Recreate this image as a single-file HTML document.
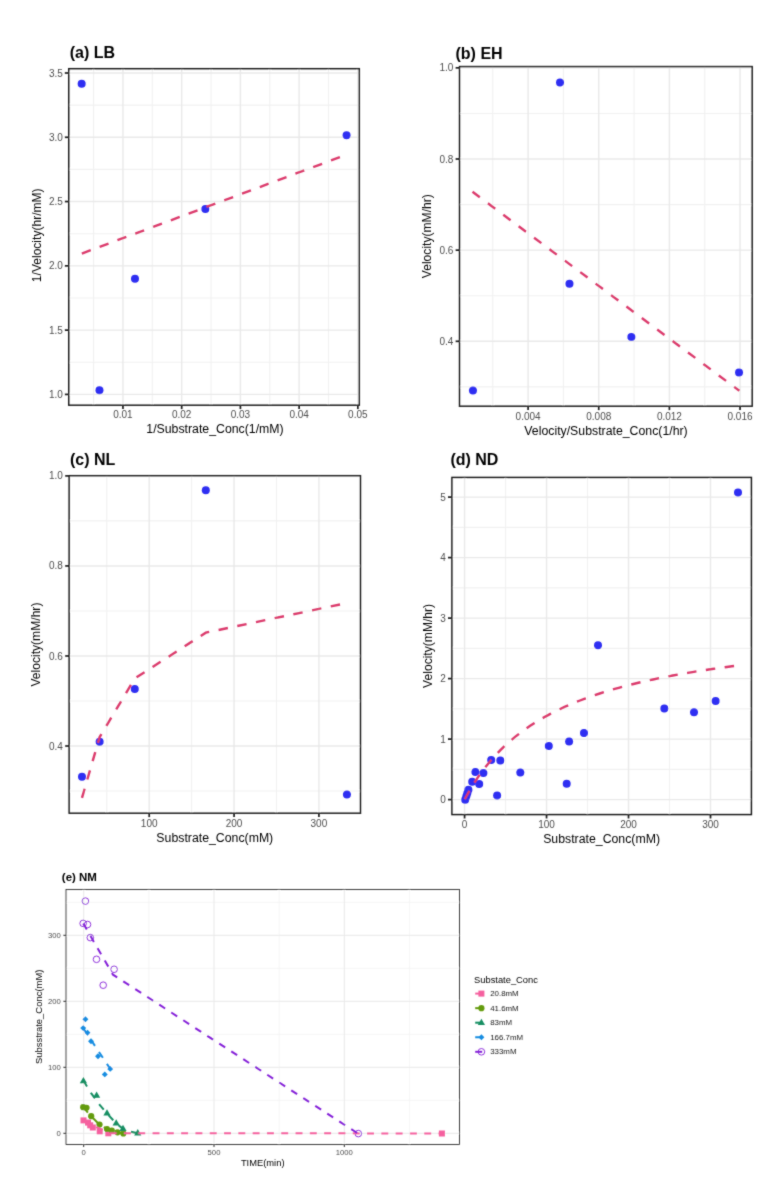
<!DOCTYPE html>
<html><head><meta charset="utf-8"><style>
html,body{margin:0;padding:0;background:#fff;}
svg{display:block;font-family:"Liberation Sans", sans-serif;}
#wrap{will-change:transform;width:768px;height:1187px;}

</style></head><body>
<div id="wrap"><svg width="768" height="1187" viewBox="0 0 768 1187">
<defs><filter id="soft" x="0" y="0" width="768" height="1187" filterUnits="userSpaceOnUse"><feConvolveMatrix order="3" kernelMatrix="0.025 0.085 0.025 0.085 0.56 0.085 0.025 0.085 0.025" edgeMode="none" preserveAlpha="false"/></filter></defs>
<rect width="768" height="1187" fill="#fff"/>
<g filter="url(#soft)">
<line x1="93.59" y1="68.70" x2="93.59" y2="405.20" stroke="#f1f1f1" stroke-width="1.1"/>
<line x1="152.31" y1="68.70" x2="152.31" y2="405.20" stroke="#f1f1f1" stroke-width="1.1"/>
<line x1="211.04" y1="68.70" x2="211.04" y2="405.20" stroke="#f1f1f1" stroke-width="1.1"/>
<line x1="269.76" y1="68.70" x2="269.76" y2="405.20" stroke="#f1f1f1" stroke-width="1.1"/>
<line x1="328.49" y1="68.70" x2="328.49" y2="405.20" stroke="#f1f1f1" stroke-width="1.1"/>
<line x1="68.75" y1="362.26" x2="359.30" y2="362.26" stroke="#f1f1f1" stroke-width="1.1"/>
<line x1="68.75" y1="297.98" x2="359.30" y2="297.98" stroke="#f1f1f1" stroke-width="1.1"/>
<line x1="68.75" y1="233.70" x2="359.30" y2="233.70" stroke="#f1f1f1" stroke-width="1.1"/>
<line x1="68.75" y1="169.42" x2="359.30" y2="169.42" stroke="#f1f1f1" stroke-width="1.1"/>
<line x1="68.75" y1="105.14" x2="359.30" y2="105.14" stroke="#f1f1f1" stroke-width="1.1"/>
<line x1="122.95" y1="68.70" x2="122.95" y2="405.20" stroke="#e9e9e9" stroke-width="1.4"/>
<line x1="181.68" y1="68.70" x2="181.68" y2="405.20" stroke="#e9e9e9" stroke-width="1.4"/>
<line x1="240.40" y1="68.70" x2="240.40" y2="405.20" stroke="#e9e9e9" stroke-width="1.4"/>
<line x1="299.12" y1="68.70" x2="299.12" y2="405.20" stroke="#e9e9e9" stroke-width="1.4"/>
<line x1="357.85" y1="68.70" x2="357.85" y2="405.20" stroke="#e9e9e9" stroke-width="1.4"/>
<line x1="68.75" y1="394.40" x2="359.30" y2="394.40" stroke="#e9e9e9" stroke-width="1.4"/>
<line x1="68.75" y1="330.12" x2="359.30" y2="330.12" stroke="#e9e9e9" stroke-width="1.4"/>
<line x1="68.75" y1="265.84" x2="359.30" y2="265.84" stroke="#e9e9e9" stroke-width="1.4"/>
<line x1="68.75" y1="201.56" x2="359.30" y2="201.56" stroke="#e9e9e9" stroke-width="1.4"/>
<line x1="68.75" y1="137.28" x2="359.30" y2="137.28" stroke="#e9e9e9" stroke-width="1.4"/>
<line x1="68.75" y1="73.00" x2="359.30" y2="73.00" stroke="#e9e9e9" stroke-width="1.4"/>
<circle cx="346.56" cy="135.26" r="4.0" fill="#2d2df2"/>
<circle cx="205.39" cy="209.09" r="4.0" fill="#2d2df2"/>
<circle cx="134.98" cy="278.74" r="4.0" fill="#2d2df2"/>
<circle cx="99.45" cy="390.15" r="4.0" fill="#2d2df2"/>
<circle cx="81.66" cy="83.74" r="4.0" fill="#2d2df2"/>
<path d="M81.83 253.55 L346.00 154.83" fill="none" stroke="#db3a6c" stroke-width="2.4" stroke-dasharray="9.5 9.5"/>
<rect x="68.75" y="68.70" width="290.55" height="336.50" fill="none" stroke="#1c1c1c" stroke-width="1.45"/>
<line x1="122.95" y1="405.20" x2="122.95" y2="409.10" stroke="#222222" stroke-width="1.74"/>
<text x="122.95" y="418.20" font-size="10" text-anchor="middle" fill="#4d4d4d" font-weight="normal">0.01</text>
<line x1="181.68" y1="405.20" x2="181.68" y2="409.10" stroke="#222222" stroke-width="1.74"/>
<text x="181.68" y="418.20" font-size="10" text-anchor="middle" fill="#4d4d4d" font-weight="normal">0.02</text>
<line x1="240.40" y1="405.20" x2="240.40" y2="409.10" stroke="#222222" stroke-width="1.74"/>
<text x="240.40" y="418.20" font-size="10" text-anchor="middle" fill="#4d4d4d" font-weight="normal">0.03</text>
<line x1="299.12" y1="405.20" x2="299.12" y2="409.10" stroke="#222222" stroke-width="1.74"/>
<text x="299.12" y="418.20" font-size="10" text-anchor="middle" fill="#4d4d4d" font-weight="normal">0.04</text>
<line x1="357.85" y1="405.20" x2="357.85" y2="409.10" stroke="#222222" stroke-width="1.74"/>
<text x="357.85" y="418.20" font-size="10" text-anchor="middle" fill="#4d4d4d" font-weight="normal">0.05</text>
<line x1="64.85" y1="394.40" x2="68.75" y2="394.40" stroke="#222222" stroke-width="1.74"/>
<text x="62.80" y="397.94" font-size="10" text-anchor="end" fill="#4d4d4d" font-weight="normal">1.0</text>
<line x1="64.85" y1="330.12" x2="68.75" y2="330.12" stroke="#222222" stroke-width="1.74"/>
<text x="62.80" y="333.66" font-size="10" text-anchor="end" fill="#4d4d4d" font-weight="normal">1.5</text>
<line x1="64.85" y1="265.84" x2="68.75" y2="265.84" stroke="#222222" stroke-width="1.74"/>
<text x="62.80" y="269.38" font-size="10" text-anchor="end" fill="#4d4d4d" font-weight="normal">2.0</text>
<line x1="64.85" y1="201.56" x2="68.75" y2="201.56" stroke="#222222" stroke-width="1.74"/>
<text x="62.80" y="205.10" font-size="10" text-anchor="end" fill="#4d4d4d" font-weight="normal">2.5</text>
<line x1="64.85" y1="137.28" x2="68.75" y2="137.28" stroke="#222222" stroke-width="1.74"/>
<text x="62.80" y="140.82" font-size="10" text-anchor="end" fill="#4d4d4d" font-weight="normal">3.0</text>
<line x1="64.85" y1="73.00" x2="68.75" y2="73.00" stroke="#222222" stroke-width="1.74"/>
<text x="62.80" y="76.54" font-size="10" text-anchor="end" fill="#4d4d4d" font-weight="normal">3.5</text>
<text x="69.70" y="57.80" font-size="16" text-anchor="start" fill="#000" font-weight="bold">(a) LB</text>
<text x="215.00" y="433.20" font-size="12.3" text-anchor="middle" fill="#000" font-weight="normal">1/Substrate_Conc(1/mM)</text>
<text x="40.55" y="235.30" font-size="12.05" text-anchor="middle" fill="#000" font-weight="normal" transform="rotate(-90 40.55 235.30)">1/Velocity(hr/mM)</text>
<line x1="492.78" y1="66.60" x2="492.78" y2="406.20" stroke="#f1f1f1" stroke-width="1.1"/>
<line x1="563.42" y1="66.60" x2="563.42" y2="406.20" stroke="#f1f1f1" stroke-width="1.1"/>
<line x1="634.07" y1="66.60" x2="634.07" y2="406.20" stroke="#f1f1f1" stroke-width="1.1"/>
<line x1="704.72" y1="66.60" x2="704.72" y2="406.20" stroke="#f1f1f1" stroke-width="1.1"/>
<line x1="459.50" y1="386.88" x2="752.20" y2="386.88" stroke="#f1f1f1" stroke-width="1.1"/>
<line x1="459.50" y1="295.72" x2="752.20" y2="295.72" stroke="#f1f1f1" stroke-width="1.1"/>
<line x1="459.50" y1="204.58" x2="752.20" y2="204.58" stroke="#f1f1f1" stroke-width="1.1"/>
<line x1="459.50" y1="113.43" x2="752.20" y2="113.43" stroke="#f1f1f1" stroke-width="1.1"/>
<line x1="528.10" y1="66.60" x2="528.10" y2="406.20" stroke="#e9e9e9" stroke-width="1.4"/>
<line x1="598.75" y1="66.60" x2="598.75" y2="406.20" stroke="#e9e9e9" stroke-width="1.4"/>
<line x1="669.40" y1="66.60" x2="669.40" y2="406.20" stroke="#e9e9e9" stroke-width="1.4"/>
<line x1="740.05" y1="66.60" x2="740.05" y2="406.20" stroke="#e9e9e9" stroke-width="1.4"/>
<line x1="459.50" y1="341.30" x2="752.20" y2="341.30" stroke="#e9e9e9" stroke-width="1.4"/>
<line x1="459.50" y1="250.15" x2="752.20" y2="250.15" stroke="#e9e9e9" stroke-width="1.4"/>
<line x1="459.50" y1="159.00" x2="752.20" y2="159.00" stroke="#e9e9e9" stroke-width="1.4"/>
<line x1="459.50" y1="67.85" x2="752.20" y2="67.85" stroke="#e9e9e9" stroke-width="1.4"/>
<circle cx="739.03" cy="372.47" r="4.0" fill="#2d2df2"/>
<circle cx="631.36" cy="336.92" r="4.0" fill="#2d2df2"/>
<circle cx="569.47" cy="283.69" r="4.0" fill="#2d2df2"/>
<circle cx="560.01" cy="82.43" r="4.0" fill="#2d2df2"/>
<circle cx="472.95" cy="390.38" r="4.0" fill="#2d2df2"/>
<path d="M472.50 191.80 L739.40 390.80" fill="none" stroke="#db3a6c" stroke-width="2.4" stroke-dasharray="9.1 10.1"/>
<rect x="459.50" y="66.60" width="292.70" height="339.60" fill="none" stroke="#1c1c1c" stroke-width="1.45"/>
<line x1="528.10" y1="406.20" x2="528.10" y2="410.10" stroke="#222222" stroke-width="1.74"/>
<text x="528.10" y="420.20" font-size="10" text-anchor="middle" fill="#4d4d4d" font-weight="normal">0.004</text>
<line x1="598.75" y1="406.20" x2="598.75" y2="410.10" stroke="#222222" stroke-width="1.74"/>
<text x="598.75" y="420.20" font-size="10" text-anchor="middle" fill="#4d4d4d" font-weight="normal">0.008</text>
<line x1="669.40" y1="406.20" x2="669.40" y2="410.10" stroke="#222222" stroke-width="1.74"/>
<text x="669.40" y="420.20" font-size="10" text-anchor="middle" fill="#4d4d4d" font-weight="normal">0.012</text>
<line x1="740.05" y1="406.20" x2="740.05" y2="410.10" stroke="#222222" stroke-width="1.74"/>
<text x="740.05" y="420.20" font-size="10" text-anchor="middle" fill="#4d4d4d" font-weight="normal">0.016</text>
<line x1="455.60" y1="341.30" x2="459.50" y2="341.30" stroke="#222222" stroke-width="1.74"/>
<text x="453.30" y="344.84" font-size="10" text-anchor="end" fill="#4d4d4d" font-weight="normal">0.4</text>
<line x1="455.60" y1="250.15" x2="459.50" y2="250.15" stroke="#222222" stroke-width="1.74"/>
<text x="453.30" y="253.69" font-size="10" text-anchor="end" fill="#4d4d4d" font-weight="normal">0.6</text>
<line x1="455.60" y1="159.00" x2="459.50" y2="159.00" stroke="#222222" stroke-width="1.74"/>
<text x="453.30" y="162.54" font-size="10" text-anchor="end" fill="#4d4d4d" font-weight="normal">0.8</text>
<line x1="455.60" y1="67.85" x2="459.50" y2="67.85" stroke="#222222" stroke-width="1.74"/>
<text x="453.30" y="71.39" font-size="10" text-anchor="end" fill="#4d4d4d" font-weight="normal">1.0</text>
<text x="455.50" y="58.90" font-size="16" text-anchor="start" fill="#000" font-weight="bold">(b) EH</text>
<text x="606.00" y="434.80" font-size="12.3" text-anchor="middle" fill="#000" font-weight="normal">Velocity/Substrate_Conc(1/hr)</text>
<text x="430.60" y="236.20" font-size="12.1" text-anchor="middle" fill="#000" font-weight="normal" transform="rotate(-90 430.60 236.20)">Velocity(mM/hr)</text>
<line x1="106.77" y1="475.70" x2="106.77" y2="813.20" stroke="#f1f1f1" stroke-width="1.1"/>
<line x1="191.63" y1="475.70" x2="191.63" y2="813.20" stroke="#f1f1f1" stroke-width="1.1"/>
<line x1="276.49" y1="475.70" x2="276.49" y2="813.20" stroke="#f1f1f1" stroke-width="1.1"/>
<line x1="69.10" y1="791.02" x2="360.50" y2="791.02" stroke="#f1f1f1" stroke-width="1.1"/>
<line x1="69.10" y1="700.98" x2="360.50" y2="700.98" stroke="#f1f1f1" stroke-width="1.1"/>
<line x1="69.10" y1="610.95" x2="360.50" y2="610.95" stroke="#f1f1f1" stroke-width="1.1"/>
<line x1="69.10" y1="520.92" x2="360.50" y2="520.92" stroke="#f1f1f1" stroke-width="1.1"/>
<line x1="149.20" y1="475.70" x2="149.20" y2="813.20" stroke="#e9e9e9" stroke-width="1.4"/>
<line x1="234.06" y1="475.70" x2="234.06" y2="813.20" stroke="#e9e9e9" stroke-width="1.4"/>
<line x1="318.92" y1="475.70" x2="318.92" y2="813.20" stroke="#e9e9e9" stroke-width="1.4"/>
<line x1="69.10" y1="746.00" x2="360.50" y2="746.00" stroke="#e9e9e9" stroke-width="1.4"/>
<line x1="69.10" y1="655.97" x2="360.50" y2="655.97" stroke="#e9e9e9" stroke-width="1.4"/>
<line x1="69.10" y1="565.93" x2="360.50" y2="565.93" stroke="#e9e9e9" stroke-width="1.4"/>
<line x1="69.10" y1="475.90" x2="360.50" y2="475.90" stroke="#e9e9e9" stroke-width="1.4"/>
<circle cx="81.99" cy="776.79" r="4.0" fill="#2d2df2"/>
<circle cx="99.64" cy="741.68" r="4.0" fill="#2d2df2"/>
<circle cx="134.77" cy="689.10" r="4.0" fill="#2d2df2"/>
<circle cx="205.80" cy="490.31" r="4.0" fill="#2d2df2"/>
<circle cx="346.92" cy="794.48" r="4.0" fill="#2d2df2"/>
<path d="M81.99 797.86 L99.64 737.07 L134.77 678.51 L205.80 632.65 L346.92 603.01" fill="none" stroke="#db3a6c" stroke-width="2.4" stroke-dasharray="9.5 9.6"/>
<rect x="69.10" y="475.70" width="291.40" height="337.50" fill="none" stroke="#1c1c1c" stroke-width="1.45"/>
<line x1="149.20" y1="813.20" x2="149.20" y2="817.10" stroke="#222222" stroke-width="1.74"/>
<text x="149.20" y="826.50" font-size="10" text-anchor="middle" fill="#4d4d4d" font-weight="normal">100</text>
<line x1="234.06" y1="813.20" x2="234.06" y2="817.10" stroke="#222222" stroke-width="1.74"/>
<text x="234.06" y="826.50" font-size="10" text-anchor="middle" fill="#4d4d4d" font-weight="normal">200</text>
<line x1="318.92" y1="813.20" x2="318.92" y2="817.10" stroke="#222222" stroke-width="1.74"/>
<text x="318.92" y="826.50" font-size="10" text-anchor="middle" fill="#4d4d4d" font-weight="normal">300</text>
<line x1="65.20" y1="746.00" x2="69.10" y2="746.00" stroke="#222222" stroke-width="1.74"/>
<text x="62.80" y="749.54" font-size="10" text-anchor="end" fill="#4d4d4d" font-weight="normal">0.4</text>
<line x1="65.20" y1="655.97" x2="69.10" y2="655.97" stroke="#222222" stroke-width="1.74"/>
<text x="62.80" y="659.51" font-size="10" text-anchor="end" fill="#4d4d4d" font-weight="normal">0.6</text>
<line x1="65.20" y1="565.93" x2="69.10" y2="565.93" stroke="#222222" stroke-width="1.74"/>
<text x="62.80" y="569.47" font-size="10" text-anchor="end" fill="#4d4d4d" font-weight="normal">0.8</text>
<line x1="65.20" y1="475.90" x2="69.10" y2="475.90" stroke="#222222" stroke-width="1.74"/>
<text x="62.80" y="479.44" font-size="10" text-anchor="end" fill="#4d4d4d" font-weight="normal">1.0</text>
<text x="69.95" y="464.80" font-size="16" text-anchor="start" fill="#000" font-weight="bold">(c) NL</text>
<text x="214.80" y="842.00" font-size="12.3" text-anchor="middle" fill="#000" font-weight="normal">Substrate_Conc(mM)</text>
<text x="40.30" y="644.60" font-size="12.1" text-anchor="middle" fill="#000" font-weight="normal" transform="rotate(-90 40.30 644.60)">Velocity(mM/hr)</text>
<line x1="505.57" y1="477.40" x2="505.57" y2="814.60" stroke="#f1f1f1" stroke-width="1.1"/>
<line x1="587.54" y1="477.40" x2="587.54" y2="814.60" stroke="#f1f1f1" stroke-width="1.1"/>
<line x1="669.51" y1="477.40" x2="669.51" y2="814.60" stroke="#f1f1f1" stroke-width="1.1"/>
<line x1="451.90" y1="769.35" x2="751.40" y2="769.35" stroke="#f1f1f1" stroke-width="1.1"/>
<line x1="451.90" y1="708.85" x2="751.40" y2="708.85" stroke="#f1f1f1" stroke-width="1.1"/>
<line x1="451.90" y1="648.35" x2="751.40" y2="648.35" stroke="#f1f1f1" stroke-width="1.1"/>
<line x1="451.90" y1="587.85" x2="751.40" y2="587.85" stroke="#f1f1f1" stroke-width="1.1"/>
<line x1="451.90" y1="527.35" x2="751.40" y2="527.35" stroke="#f1f1f1" stroke-width="1.1"/>
<line x1="464.59" y1="477.40" x2="464.59" y2="814.60" stroke="#e9e9e9" stroke-width="1.4"/>
<line x1="546.56" y1="477.40" x2="546.56" y2="814.60" stroke="#e9e9e9" stroke-width="1.4"/>
<line x1="628.53" y1="477.40" x2="628.53" y2="814.60" stroke="#e9e9e9" stroke-width="1.4"/>
<line x1="710.50" y1="477.40" x2="710.50" y2="814.60" stroke="#e9e9e9" stroke-width="1.4"/>
<line x1="451.90" y1="799.60" x2="751.40" y2="799.60" stroke="#e9e9e9" stroke-width="1.4"/>
<line x1="451.90" y1="739.10" x2="751.40" y2="739.10" stroke="#e9e9e9" stroke-width="1.4"/>
<line x1="451.90" y1="678.60" x2="751.40" y2="678.60" stroke="#e9e9e9" stroke-width="1.4"/>
<line x1="451.90" y1="618.10" x2="751.40" y2="618.10" stroke="#e9e9e9" stroke-width="1.4"/>
<line x1="451.90" y1="557.60" x2="751.40" y2="557.60" stroke="#e9e9e9" stroke-width="1.4"/>
<line x1="451.90" y1="497.10" x2="751.40" y2="497.10" stroke="#e9e9e9" stroke-width="1.4"/>
<circle cx="465.20" cy="799.80" r="4.0" fill="#2d2df2"/>
<circle cx="466.30" cy="796.50" r="4.0" fill="#2d2df2"/>
<circle cx="467.30" cy="793.30" r="4.0" fill="#2d2df2"/>
<circle cx="468.40" cy="789.80" r="4.0" fill="#2d2df2"/>
<circle cx="472.20" cy="781.80" r="4.0" fill="#2d2df2"/>
<circle cx="479.20" cy="783.90" r="4.0" fill="#2d2df2"/>
<circle cx="475.40" cy="772.10" r="4.0" fill="#2d2df2"/>
<circle cx="483.40" cy="773.10" r="4.0" fill="#2d2df2"/>
<circle cx="491.20" cy="759.90" r="4.0" fill="#2d2df2"/>
<circle cx="500.30" cy="760.40" r="4.0" fill="#2d2df2"/>
<circle cx="497.10" cy="795.60" r="4.0" fill="#2d2df2"/>
<circle cx="520.30" cy="772.40" r="4.0" fill="#2d2df2"/>
<circle cx="548.80" cy="745.90" r="4.0" fill="#2d2df2"/>
<circle cx="566.70" cy="783.70" r="4.0" fill="#2d2df2"/>
<circle cx="569.10" cy="741.60" r="4.0" fill="#2d2df2"/>
<circle cx="584.00" cy="732.90" r="4.0" fill="#2d2df2"/>
<circle cx="598.00" cy="645.30" r="4.0" fill="#2d2df2"/>
<circle cx="664.30" cy="708.40" r="4.0" fill="#2d2df2"/>
<circle cx="694.00" cy="712.20" r="4.0" fill="#2d2df2"/>
<circle cx="715.60" cy="701.10" r="4.0" fill="#2d2df2"/>
<circle cx="738.00" cy="492.40" r="4.0" fill="#2d2df2"/>
<path d="M464.84 799.13 L466.23 796.54 L467.87 793.57 L469.51 790.71 L471.15 787.94 L472.79 785.25 L474.43 782.65 L476.07 780.13 L477.71 777.69 L479.34 775.32 L480.98 773.02 L485.90 766.50 L490.82 760.52 L495.74 755.00 L500.66 749.89 L505.57 745.16 L510.49 740.75 L515.41 736.64 L520.33 732.80 L525.25 729.20 L530.17 725.83 L535.08 722.65 L540.00 719.66 L544.92 716.83 L549.84 714.16 L554.76 711.63 L559.68 709.23 L564.59 706.95 L569.51 704.79 L574.43 702.72 L579.35 700.76 L584.27 698.88 L589.18 697.09 L594.10 695.38 L599.02 693.74 L603.94 692.17 L608.86 690.67 L613.78 689.22 L618.69 687.83 L623.61 686.50 L628.53 685.21 L633.45 683.98 L638.37 682.79 L643.28 681.64 L648.20 680.53 L653.12 679.46 L658.04 678.43 L662.96 677.43 L667.88 676.47 L672.79 675.53 L677.71 674.63 L682.63 673.75 L687.55 672.91 L692.47 672.08 L697.38 671.29 L702.30 670.51 L707.22 669.76 L712.14 669.03 L717.06 668.32 L721.98 667.63 L726.89 666.96 L731.81 666.31 L736.73 665.67 L737.55 665.57" fill="none" stroke="#db3a6c" stroke-width="2.4" stroke-dasharray="9.5 9.5"/>
<rect x="451.90" y="477.40" width="299.50" height="337.20" fill="none" stroke="#1c1c1c" stroke-width="1.45"/>
<line x1="464.59" y1="814.60" x2="464.59" y2="818.50" stroke="#222222" stroke-width="1.74"/>
<text x="464.59" y="827.60" font-size="10" text-anchor="middle" fill="#4d4d4d" font-weight="normal">0</text>
<line x1="546.56" y1="814.60" x2="546.56" y2="818.50" stroke="#222222" stroke-width="1.74"/>
<text x="546.56" y="827.60" font-size="10" text-anchor="middle" fill="#4d4d4d" font-weight="normal">100</text>
<line x1="628.53" y1="814.60" x2="628.53" y2="818.50" stroke="#222222" stroke-width="1.74"/>
<text x="628.53" y="827.60" font-size="10" text-anchor="middle" fill="#4d4d4d" font-weight="normal">200</text>
<line x1="710.50" y1="814.60" x2="710.50" y2="818.50" stroke="#222222" stroke-width="1.74"/>
<text x="710.50" y="827.60" font-size="10" text-anchor="middle" fill="#4d4d4d" font-weight="normal">300</text>
<line x1="448.00" y1="799.60" x2="451.90" y2="799.60" stroke="#222222" stroke-width="1.74"/>
<text x="445.80" y="803.14" font-size="10" text-anchor="end" fill="#4d4d4d" font-weight="normal">0</text>
<line x1="448.00" y1="739.10" x2="451.90" y2="739.10" stroke="#222222" stroke-width="1.74"/>
<text x="445.80" y="742.64" font-size="10" text-anchor="end" fill="#4d4d4d" font-weight="normal">1</text>
<line x1="448.00" y1="678.60" x2="451.90" y2="678.60" stroke="#222222" stroke-width="1.74"/>
<text x="445.80" y="682.14" font-size="10" text-anchor="end" fill="#4d4d4d" font-weight="normal">2</text>
<line x1="448.00" y1="618.10" x2="451.90" y2="618.10" stroke="#222222" stroke-width="1.74"/>
<text x="445.80" y="621.64" font-size="10" text-anchor="end" fill="#4d4d4d" font-weight="normal">3</text>
<line x1="448.00" y1="557.60" x2="451.90" y2="557.60" stroke="#222222" stroke-width="1.74"/>
<text x="445.80" y="561.14" font-size="10" text-anchor="end" fill="#4d4d4d" font-weight="normal">4</text>
<line x1="448.00" y1="497.10" x2="451.90" y2="497.10" stroke="#222222" stroke-width="1.74"/>
<text x="445.80" y="500.64" font-size="10" text-anchor="end" fill="#4d4d4d" font-weight="normal">5</text>
<text x="450.45" y="464.90" font-size="16" text-anchor="start" fill="#000" font-weight="bold">(d) ND</text>
<text x="601.60" y="843.00" font-size="12.3" text-anchor="middle" fill="#000" font-weight="normal">Substrate_Conc(mM)</text>
<text x="432.30" y="645.90" font-size="12.1" text-anchor="middle" fill="#000" font-weight="normal" transform="rotate(-90 432.30 645.90)">Velocity(mM/hr)</text>
<line x1="148.85" y1="889.60" x2="148.85" y2="1144.40" stroke="#f1f1f1" stroke-width="0.75"/>
<line x1="279.15" y1="889.60" x2="279.15" y2="1144.40" stroke="#f1f1f1" stroke-width="0.75"/>
<line x1="409.45" y1="889.60" x2="409.45" y2="1144.40" stroke="#f1f1f1" stroke-width="0.75"/>
<line x1="66.00" y1="1100.30" x2="459.50" y2="1100.30" stroke="#f1f1f1" stroke-width="0.75"/>
<line x1="66.00" y1="1034.30" x2="459.50" y2="1034.30" stroke="#f1f1f1" stroke-width="0.75"/>
<line x1="66.00" y1="968.30" x2="459.50" y2="968.30" stroke="#f1f1f1" stroke-width="0.75"/>
<line x1="66.00" y1="902.30" x2="459.50" y2="902.30" stroke="#f1f1f1" stroke-width="0.75"/>
<line x1="83.70" y1="889.60" x2="83.70" y2="1144.40" stroke="#e9e9e9" stroke-width="1.0"/>
<line x1="214.00" y1="889.60" x2="214.00" y2="1144.40" stroke="#e9e9e9" stroke-width="1.0"/>
<line x1="344.30" y1="889.60" x2="344.30" y2="1144.40" stroke="#e9e9e9" stroke-width="1.0"/>
<line x1="66.00" y1="1133.30" x2="459.50" y2="1133.30" stroke="#e9e9e9" stroke-width="1.0"/>
<line x1="66.00" y1="1067.30" x2="459.50" y2="1067.30" stroke="#e9e9e9" stroke-width="1.0"/>
<line x1="66.00" y1="1001.30" x2="459.50" y2="1001.30" stroke="#e9e9e9" stroke-width="1.0"/>
<line x1="66.00" y1="935.30" x2="459.50" y2="935.30" stroke="#e9e9e9" stroke-width="1.0"/>
<rect x="80.50" y="1117.40" width="6.0" height="6.0" fill="#f5619f"/>
<rect x="85.00" y="1119.60" width="6.0" height="6.0" fill="#f5619f"/>
<rect x="87.20" y="1122.30" width="6.0" height="6.0" fill="#f5619f"/>
<rect x="89.80" y="1124.50" width="6.0" height="6.0" fill="#f5619f"/>
<rect x="96.70" y="1128.30" width="6.0" height="6.0" fill="#f5619f"/>
<rect x="105.30" y="1130.30" width="6.0" height="6.0" fill="#f5619f"/>
<rect x="438.90" y="1130.50" width="6.0" height="6.0" fill="#f5619f"/>
<circle cx="83.20" cy="1107.20" r="3.1" fill="#649b0a"/>
<circle cx="86.50" cy="1107.80" r="3.1" fill="#649b0a"/>
<circle cx="91.20" cy="1116.20" r="3.1" fill="#649b0a"/>
<circle cx="99.50" cy="1124.60" r="3.1" fill="#649b0a"/>
<circle cx="107.00" cy="1129.00" r="3.1" fill="#649b0a"/>
<circle cx="111.80" cy="1130.50" r="3.1" fill="#649b0a"/>
<circle cx="117.50" cy="1132.30" r="3.1" fill="#649b0a"/>
<circle cx="123.30" cy="1133.40" r="3.1" fill="#649b0a"/>
<path d="M83.40 1076.89 L87.00 1083.19 L79.80 1083.19Z" fill="#138e62"/>
<path d="M96.60 1091.39 L100.20 1097.69 L93.00 1097.69Z" fill="#138e62"/>
<path d="M107.00 1109.29 L110.60 1115.59 L103.40 1115.59Z" fill="#138e62"/>
<path d="M116.20 1119.29 L119.80 1125.59 L112.60 1125.59Z" fill="#138e62"/>
<path d="M123.00 1124.79 L126.60 1131.09 L119.40 1131.09Z" fill="#138e62"/>
<path d="M137.75 1129.09 L141.35 1135.39 L134.15 1135.39Z" fill="#138e62"/>
<path d="M85.40 1016.25 L88.35 1019.20 L85.40 1022.15 L82.45 1019.20Z" fill="#148ce1"/>
<path d="M83.20 1025.15 L86.15 1028.10 L83.20 1031.05 L80.25 1028.10Z" fill="#148ce1"/>
<path d="M87.50 1029.75 L90.45 1032.70 L87.50 1035.65 L84.55 1032.70Z" fill="#148ce1"/>
<path d="M91.00 1038.30 L93.95 1041.25 L91.00 1044.20 L88.05 1041.25Z" fill="#148ce1"/>
<path d="M98.00 1053.25 L100.95 1056.20 L98.00 1059.15 L95.05 1056.20Z" fill="#148ce1"/>
<path d="M104.80 1071.45 L107.75 1074.40 L104.80 1077.35 L101.85 1074.40Z" fill="#148ce1"/>
<path d="M110.20 1065.95 L113.15 1068.90 L110.20 1071.85 L107.25 1068.90Z" fill="#148ce1"/>
<circle cx="85.40" cy="901.10" r="3.3" fill="none" stroke="#8420d8" stroke-width="0.9"/>
<circle cx="83.15" cy="923.40" r="3.3" fill="none" stroke="#8420d8" stroke-width="0.9"/>
<circle cx="87.50" cy="924.50" r="3.3" fill="none" stroke="#8420d8" stroke-width="0.9"/>
<circle cx="90.30" cy="937.60" r="3.3" fill="none" stroke="#8420d8" stroke-width="0.9"/>
<circle cx="96.50" cy="959.30" r="3.3" fill="none" stroke="#8420d8" stroke-width="0.9"/>
<circle cx="114.10" cy="969.30" r="3.3" fill="none" stroke="#8420d8" stroke-width="0.9"/>
<circle cx="103.20" cy="985.20" r="3.3" fill="none" stroke="#8420d8" stroke-width="0.9"/>
<circle cx="358.30" cy="1133.60" r="3.3" fill="none" stroke="#8420d8" stroke-width="0.9"/>
<path d="M83.50 1120.40 L108.30 1133.30" fill="none" stroke="#f5619f" stroke-width="2.0" stroke-dasharray="7 7.3" stroke-dashoffset="0"/>
<path d="M108.30 1133.30 L441.90 1133.40" fill="none" stroke="#f5619f" stroke-width="2.0" stroke-dasharray="7 7.3" stroke-dashoffset="12.98"/>
<path d="M83.20 1107.50 L91.20 1116.20 L99.50 1124.60 L107.00 1129.00 L111.80 1130.50 L117.50 1132.30 L123.30 1133.40" fill="none" stroke="#649b0a" stroke-width="2.0" stroke-dasharray="7 7.3" stroke-dashoffset="0"/>
<path d="M83.30 1080.50 L91.30 1093.40 L99.70 1104.80 L107.00 1113.50 L116.20 1123.40 L123.00 1128.90 L126.00 1130.60 L137.75 1133.20" fill="none" stroke="#138e62" stroke-width="2.0" stroke-dasharray="7 7.3" stroke-dashoffset="0"/>
<path d="M83.20 1028.10 L110.20 1068.90" fill="none" stroke="#148ce1" stroke-width="2.0" stroke-dasharray="7 7.3" stroke-dashoffset="0"/>
<path d="M83.20 923.50 L113.00 974.70 L357.60 1133.30" fill="none" stroke="#8420d8" stroke-width="2.0" stroke-dasharray="7 7.3" stroke-dashoffset="0"/>
<rect x="66.00" y="889.60" width="393.50" height="254.80" fill="none" stroke="#1c1c1c" stroke-width="0.8"/>
<line x1="83.70" y1="1144.40" x2="83.70" y2="1147.00" stroke="#222222" stroke-width="0.96"/>
<text x="83.70" y="1154.60" font-size="7.7" text-anchor="middle" fill="#4d4d4d" font-weight="normal">0</text>
<line x1="214.00" y1="1144.40" x2="214.00" y2="1147.00" stroke="#222222" stroke-width="0.96"/>
<text x="214.00" y="1154.60" font-size="7.7" text-anchor="middle" fill="#4d4d4d" font-weight="normal">500</text>
<line x1="344.30" y1="1144.40" x2="344.30" y2="1147.00" stroke="#222222" stroke-width="0.96"/>
<text x="344.30" y="1154.60" font-size="7.7" text-anchor="middle" fill="#4d4d4d" font-weight="normal">1000</text>
<line x1="63.40" y1="1133.30" x2="66.00" y2="1133.30" stroke="#222222" stroke-width="0.96"/>
<text x="60.90" y="1136.03" font-size="7.7" text-anchor="end" fill="#4d4d4d" font-weight="normal">0</text>
<line x1="63.40" y1="1067.30" x2="66.00" y2="1067.30" stroke="#222222" stroke-width="0.96"/>
<text x="60.90" y="1070.03" font-size="7.7" text-anchor="end" fill="#4d4d4d" font-weight="normal">100</text>
<line x1="63.40" y1="1001.30" x2="66.00" y2="1001.30" stroke="#222222" stroke-width="0.96"/>
<text x="60.90" y="1004.03" font-size="7.7" text-anchor="end" fill="#4d4d4d" font-weight="normal">200</text>
<line x1="63.40" y1="935.30" x2="66.00" y2="935.30" stroke="#222222" stroke-width="0.96"/>
<text x="60.90" y="938.03" font-size="7.7" text-anchor="end" fill="#4d4d4d" font-weight="normal">300</text>
<text x="61.80" y="881.00" font-size="11.5" text-anchor="start" fill="#000" font-weight="bold">(e) NM</text>
<text x="262.70" y="1165.60" font-size="9.35" text-anchor="middle" fill="#000" font-weight="normal">TIME(min)</text>
<text x="42.20" y="1016.80" font-size="9.45" text-anchor="middle" fill="#000" font-weight="normal" transform="rotate(-90 42.20 1016.80)">Subsstrate_Conc(mM)</text>
<text x="474.00" y="982.60" font-size="9.35" text-anchor="start" fill="#000" font-weight="normal">Substate_Conc</text>
<line x1="475.2" y1="993.60" x2="487.5" y2="993.60" stroke="#f5619f" stroke-width="2.0" stroke-dasharray="7 7.3"/>
<rect x="478.40" y="990.60" width="6.0" height="6.0" fill="#f5619f"/>
<text x="490.20" y="996.25" font-size="7.9" text-anchor="start" fill="#1a1a1a" font-weight="normal">20.8mM</text>
<line x1="475.2" y1="1008.15" x2="487.5" y2="1008.15" stroke="#649b0a" stroke-width="2.0" stroke-dasharray="7 7.3"/>
<circle cx="481.40" cy="1008.15" r="3.1" fill="#649b0a"/>
<text x="490.20" y="1010.80" font-size="7.9" text-anchor="start" fill="#1a1a1a" font-weight="normal">41.6mM</text>
<line x1="475.2" y1="1022.70" x2="487.5" y2="1022.70" stroke="#138e62" stroke-width="2.0" stroke-dasharray="7 7.3"/>
<path d="M481.40 1018.79 L485.00 1025.09 L477.80 1025.09Z" fill="#138e62"/>
<text x="490.20" y="1025.35" font-size="7.9" text-anchor="start" fill="#1a1a1a" font-weight="normal">83mM</text>
<line x1="475.2" y1="1037.25" x2="487.5" y2="1037.25" stroke="#148ce1" stroke-width="2.0" stroke-dasharray="7 7.3"/>
<path d="M481.40 1034.30 L484.35 1037.25 L481.40 1040.20 L478.45 1037.25Z" fill="#148ce1"/>
<text x="490.20" y="1039.90" font-size="7.9" text-anchor="start" fill="#1a1a1a" font-weight="normal">166.7mM</text>
<line x1="475.2" y1="1051.80" x2="487.5" y2="1051.80" stroke="#8420d8" stroke-width="2.0" stroke-dasharray="7 7.3"/>
<circle cx="481.40" cy="1051.80" r="3.3" fill="none" stroke="#8420d8" stroke-width="0.9"/>
<text x="490.20" y="1054.45" font-size="7.9" text-anchor="start" fill="#1a1a1a" font-weight="normal">333mM</text>
</g>
</svg></div>
</body></html>
